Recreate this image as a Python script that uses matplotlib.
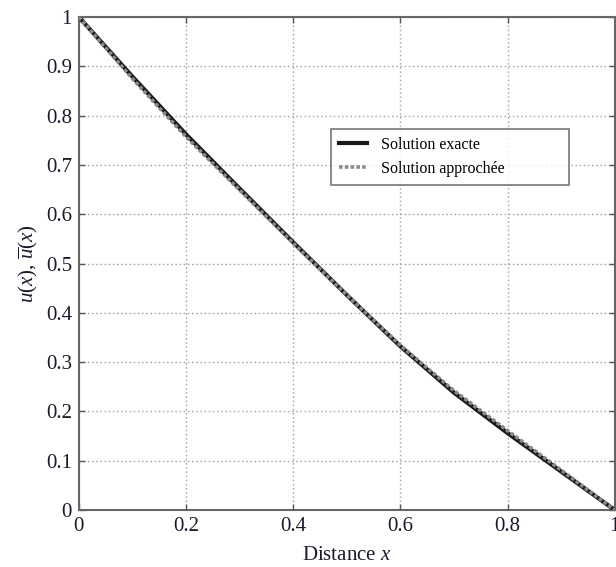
import matplotlib
matplotlib.use('Agg')
import matplotlib.pyplot as plt
import numpy as np

# valeurs
x_vals = [0.0, 0.1, 0.2, 0.3, 0.4, 0.5, 0.6, 0.7, 0.8, 0.9, 1.0]
u_exact = [1.0, 0.879, 0.762, 0.652, 0.543, 0.436, 0.332, 0.238, 0.156, 0.078, 0.0]
u_approx = [1.0, 0.875, 0.757, 0.649, 0.541, 0.436, 0.334, 0.242, 0.161, 0.081, 0.0]

xticks = [0, 0.2, 0.4, 0.6, 0.8, 1]
xtick_labels = ['0', '0.2', '0.4', '0.6', '0.8', '1']
yticks = [0, 0.1, 0.2, 0.3, 0.4, 0.5, 0.6, 0.7, 0.8, 0.9, 1]
ytick_labels = ['0', '0.1', '0.2', '0.3', '0.4', '0.5', '0.6', '0.7', '0.8', '0.9', '1']

plt.rcParams['font.family'] = ['Liberation Serif', 'DejaVu Serif']
plt.rcParams['mathtext.fontset'] = 'custom'
plt.rcParams['mathtext.it'] = 'Liberation Serif:italic'
plt.rcParams['mathtext.rm'] = 'Liberation Serif'

fig = plt.figure(figsize=(6.16, 5.67), dpi=100)
ax = fig.add_axes([0.128, 0.1005, 0.87, 0.8695])

ax.plot(x_vals, u_exact, color='#1a1a1a', lw=3.0, label='Solution exacte', zorder=3)
ax.plot(x_vals, u_approx, color='#8a8a8a', lw=2.6, ls=(0, (1, 0.6)),
        label='Solution approchée', zorder=4)

ax.set_xlim(0, 1)
ax.set_ylim(0, 1)
ax.set_xticks(xticks)
ax.set_xticklabels(xtick_labels)
ax.set_yticks(yticks)
ax.set_yticklabels(ytick_labels)
ax.tick_params(direction='in', length=4, width=1, colors='#555555',
               labelcolor='#1a1a2a', labelsize=15, pad=5,
               top=True, right=True)

ax.grid(True, ls=(0, (1.2, 1.8)), color='#aaaaaa', lw=1)
for s in ax.spines.values():
    s.set_color('#666666')
    s.set_linewidth(1.5)

ax.set_xlabel(r'Distance $x$', fontsize=15, color='#1a1a2a', labelpad=7)
ax.set_ylabel(r'$u(x)$, $\overline{u}(x)$', fontsize=15, color='#1a1a2a', labelpad=4)

leg = ax.legend(loc='upper left', bbox_to_anchor=(0.470, 0.659, 0.444, 0.114),
                mode='expand', fontsize=11.5, frameon=True, fancybox=False,
                handlelength=1.75, handletextpad=0.9, borderpad=0.5,
                labelspacing=0.5, borderaxespad=0)
leg.get_frame().set_edgecolor('#555555')
leg.get_frame().set_linewidth(1.2)

fig.savefig('out.png', dpi=100)
